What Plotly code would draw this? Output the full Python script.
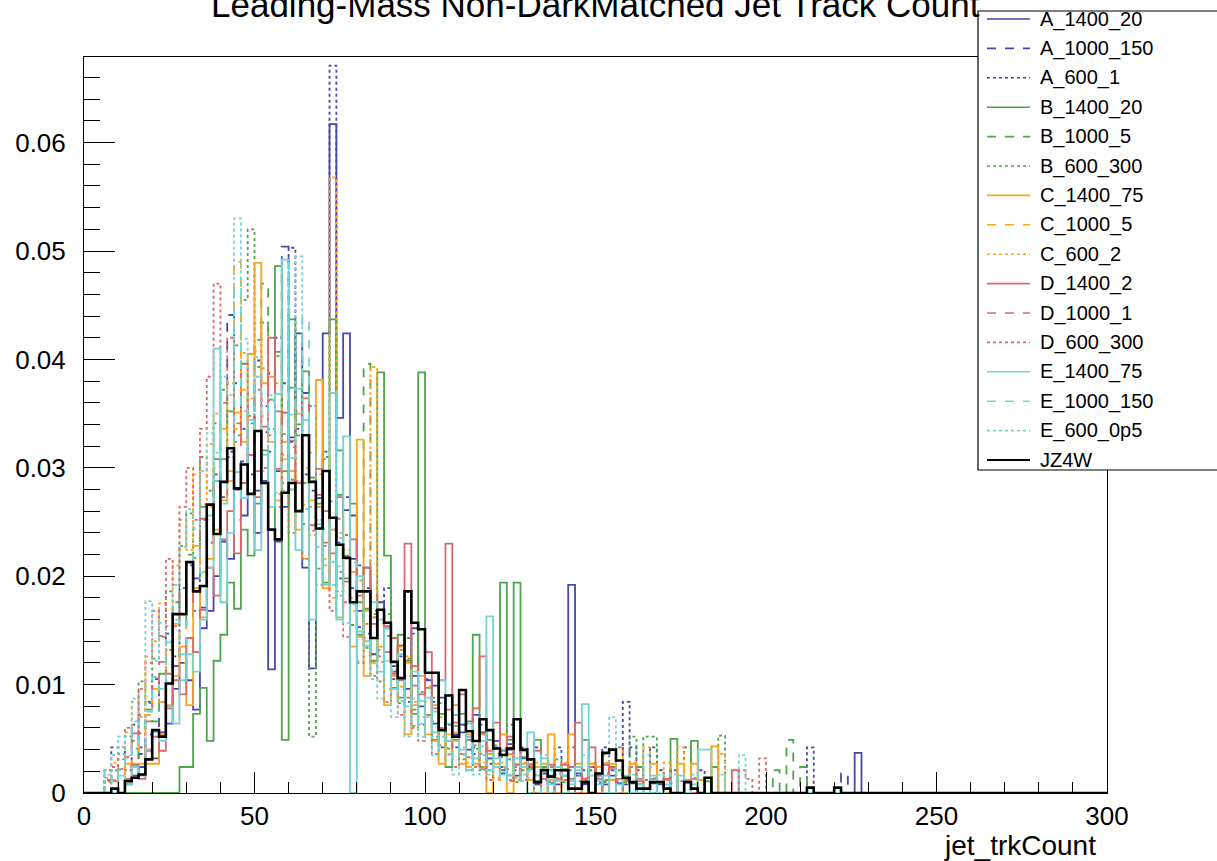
import numpy as np
import plotly.graph_objects as go

# ---------------- data (bin width 2, bins start at 0) ----------------
bin_width = 2
x_min, x_max = 0, 300

A_1400_20 = [0,0,0,0,0, 0,0.0008,0.0016,0.0024,0.0040, 0.0032,0.0056,0.0064,0.0096,0.0120,
    0.0104,0.0077,0.0152,0.0168,0.0200, 0.0232,0.0216,0.0280,0.0256,0.0312,
    0.0240,0.0288,0.0114,0.0232,0.0264, 0.0328,0.0424,0.0208,0.0115,0.0272,
    0.0424,0.0617,0.0346,0.0424,0.0256, 0.0168,0.0208,0.0128,0.0176,0.0152,
    0.0112,0.0136,0.0096,0.0152,0.0080, 0.0104,0.0064,0.0088,0.0048,0.0072,
    0.0056,0.0040,0.0072,0.0056,0.0032, 0.0048,0.0024,0.0040,0.0016,0.0032,
    0.0024,0.0008,0.0024,0.0016,0.0008, 0.0016,0.0192,0.0016,0.0008,0.0024,
    0.0016,0.0008,0.0016,0,0.0008, 0,0.0008,0,0,0.0008, 0,0,0,0,0, 0,0,0,0,0,
    0,0,0,0,0, 0,0,0,0,0, 0,0,0,0,0, 0,0,0,0.0037]
A_1000_150 = [0,0,0,0,0.0018, 0.0009,0.0018,0.0027,0.0036,0.0054, 0.0045,0.0072,0.0081,0.0117,0.0135,
    0.0162,0.0198,0.0171,0.0252,0.0288, 0.0342,0.0441,0.0252,0.0306,0.0351,
    0.0279,0.0333,0.0387,0.0297,0.0504, 0.0324,0.0405,0.0369,0.0279,0.0225,
    0.0288,0.0243,0.0198,0.0261,0.0216, 0.0153,0.0189,0.0162,0.0126,0.0171,
    0.0117,0.0135,0.0090,0.0108,0.0126, 0.0081,0.0099,0.0063,0.0072,0.0054,
    0.0063,0.0045,0.0036,0.0054,0.0027, 0.0036,0.0018,0.0045,0.0027,0.0018,
    0.0027,0.0009,0.0018,0.0009,0.0018, 0.0009,0,0.0018,0.0009,0,
    0.0009,0.0018,0,0.0009,0.0043, 0.0009,0,0,0.0009,0, 0,0.0009,0,0,0,
    0,0,0,0,0, 0,0,0,0,0, 0,0,0,0,0, 0,0,0,0,0, 0,0.0018]
A_600_1 = [0,0,0,0.0021,0.0042, 0.0042,0.0021,0.0063,0.0042,0.0084, 0.0105,0.0084,0.0147,0.0126,0.0189,
    0.0210,0.0168,0.0252,0.0231,0.0294, 0.0273,0.0315,0.0378,0.0336,0.0294,
    0.0399,0.0357,0.0315,0.0420,0.0378, 0.0503,0.0336,0.0294,0.0357,0.0252,
    0.0315,0.0671,0.0231,0.0273,0.0189, 0.0210,0.0147,0.0168,0.0126,0.0189,
    0.0105,0.0126,0.0084,0.0147,0.0063, 0.0105,0.0084,0.0042,0.0063,0.0042,
    0.0063,0.0021,0.0042,0.0063,0.0021, 0.0042,0.0021,0.0063,0.0021,0.0042,
    0.0021,0.0042,0,0.0021,0.0042, 0.0021,0.0042,0,0.0021,0.0021,
    0,0.0042,0.0021,0.0042,0.0084, 0.0042,0.0021,0,0.0042,0.0021,
    0,0.0021,0,0.0042,0, 0.0021,0,0,0,0, 0,0,0,0,0, 0,0,0,0,0, 0,0.0042]
B_1400_20 = [0,0,0,0,0, 0,0,0,0,0, 0,0,0,0,0.0024,
    0.0024,0.0073,0.0097,0.0048,0.0122, 0.0146,0.0194,0.0170,0.0243,0.0219,
    0.0267,0.0316,0.0243,0.0486,0.0049, 0.0437,0.0340,0.0389,0.0291,0.0267,
    0.0194,0.0437,0.0316,0.0219,0.0267, 0.0146,0.0170,0.0122,0.0388,0.0219,
    0.0097,0.0146,0.0122,0.0073,0.0388, 0.0097,0.0049,0.0073,0.0024,0.0049,
    0.0073,0.0049,0.0146,0.0024,0.0049, 0.0024,0.0194,0.0049,0.0194,0.0024,
    0,0.0049,0.0024,0,0.0024, 0,0.0024,0,0.0049,0, 0.0024,0,0.0024,0,0,
    0,0.0024,0,0,0, 0,0.0050,0,0,0.0048, 0,0,0.0024]
B_1000_5 = [0,0,0,0,0, 0.0011,0.0022,0.0033,0.0055,0.0077, 0.0066,0.0110,0.0132,0.0176,0.0154,
    0.0220,0.0198,0.0264,0.0242,0.0308, 0.0286,0.0352,0.0330,0.0396,0.0341,
    0.0418,0.0470,0.0363,0.0407,0.0297, 0.0374,0.0330,0.0286,0.0352,0.0264,
    0.0308,0.0242,0.0275,0.0198,0.0231, 0.0176,0.0396,0.0154,0.0132,0.0165,
    0.0110,0.0088,0.0143,0.0077,0.0110, 0.0066,0.0088,0.0044,0.0077,0.0055,
    0.0044,0.0066,0.0033,0.0055,0.0022, 0.0044,0.0033,0.0022,0.0011,0.0033,
    0.0022,0.0011,0.0022,0,0.0011, 0.0022,0,0.0011,0,0.0022, 0,0.0011,0,0.0011,0,
    0.0011,0,0.0011,0,0, 0.0022,0,0.0011,0,0, 0,0.0011,0,0,0, 0,0,0,0,0,
    0,0.0021,0,0.0049,0, 0.0024]
B_600_300 = [0,0,0,0.0010,0.0021, 0.0031,0.0052,0.0041,0.0103,0.0083, 0.0124,0.0145,0.0186,0.0165,0.0228,
    0.0258,0.0217,0.0310,0.0279,0.0341, 0.0372,0.0310,0.0413,0.0455,0.0520,
    0.0393,0.0434,0.0362,0.0403,0.0331, 0.0289,0.0352,0.0248,0.0052,0.0207,
    0.0310,0.0269,0.0186,0.0238,0.0155, 0.0196,0.0134,0.0165,0.0103,0.0145,
    0.0114,0.0083,0.0124,0.0062,0.0093, 0.0072,0.0052,0.0083,0.0041,0.0062,
    0.0031,0.0052,0.0041,0.0021,0.0031, 0.0041,0.0021,0.0031,0.0010,0.0021,
    0.0031,0.0010,0.0021,0.0010,0.0031, 0.0010,0.0021,0,0.0010,0.0021,
    0,0.0010,0,0.0021,0.0010, 0.0052,0,0.0052,0.0052,0.0010, 0,0.0021,0,0.0010,0,
    0,0.0010,0,0.0053]
C_1400_75 = [0,0,0,0,0, 0,0.0027,0.0027,0.0027,0.0027, 0.0027,0.0054,0.0081,0.0108,0.0135,
    0.0081,0.0189,0.0162,0.0216,0.0243, 0.0270,0.0297,0.0351,0.0324,0.0405,
    0.0489,0.0378,0.0324,0.0270,0.0351, 0.0297,0.0243,0.0216,0.0270,0.0381,
    0.0189,0.0243,0.0162,0.0216,0.0135, 0.0326,0.0108,0.0162,0.0135,0.0081,
    0.0108,0.0135,0.0054,0.0081,0.0108, 0.0054,0.0081,0.0027,0.0054,0.0081,
    0.0027,0.0054,0.0027,0.0054,0, 0.0027,0.0054,0,0.0027,0.0027,
    0.0027,0,0.0027,0.0054,0, 0.0027,0.0054,0.0027,0,0.0027, 0,0.0027,0.0027,0,0,
    0.0027,0,0,0.0027,0, 0,0,0.0027,0,0.0027, 0,0,0.0043]
C_1000_5 = [0,0,0,0,0.0012, 0.0012,0.0024,0.0048,0.0036,0.0072, 0.0096,0.0084,0.0132,0.0156,0.0120,
    0.0192,0.0228,0.0204,0.0264,0.0300, 0.0336,0.0288,0.0490,0.0372,0.0312,
    0.0408,0.0348,0.0384,0.0276,0.0324, 0.0360,0.0252,0.0300,0.0228,0.0264,
    0.0216,0.0180,0.0240,0.0168,0.0204, 0.0144,0.0168,0.0120,0.0156,0.0096,
    0.0108,0.0084,0.0120,0.0072,0.0060, 0.0084,0.0048,0.0060,0.0036,0.0048,
    0.0036,0.0024,0.0048,0.0024,0.0036, 0.0012,0.0024,0.0036,0.0012,0.0024,
    0.0012,0.0024,0,0.0012,0.0024, 0.0012,0,0.0024,0.0012,0, 0.0024,0.0036,0.0012,0,0.0012,
    0,0.0012,0,0.0024,0, 0.0012,0,0,0.0012,0, 0.0012,0,0]
C_600_2 = [0,0,0,0.0014,0.0028, 0.0042,0.0056,0.0084,0.0070,0.0126, 0.0140,0.0175,0.0154,0.0210,0.0252,
    0.0224,0.0294,0.0266,0.0322,0.0350, 0.0308,0.0378,0.0336,0.0406,0.0364,
    0.0434,0.0392,0.0336,0.0378,0.0308, 0.0280,0.0350,0.0266,0.0238,0.0294,
    0.0210,0.0568,0.0182,0.0224,0.0168, 0.0196,0.0140,0.0393,0.0126,0.0154,
    0.0112,0.0098,0.0126,0.0084,0.0070, 0.0098,0.0056,0.0070,0.0042,0.0056,
    0.0042,0.0028,0.0056,0.0028,0.0042, 0.0014,0.0028,0.0042,0.0014,0.0028,
    0.0014,0.0028,0,0.0028,0.0014, 0.0028,0.0014,0,0.0014,0.0028, 0.0014,0.0028,0,0.0042,0.0014,
    0.0028,0,0.0042,0.0014,0, 0.0028,0,0.0042,0,0.0014, 0,0,0.0043,0.0036]
D_1400_2 = [0,0,0,0,0, 0,0.0013,0.0026,0.0013,0.0039, 0.0052,0.0039,0.0078,0.0104,0.0091,
    0.0143,0.0130,0.0169,0.0208,0.0182, 0.0234,0.0260,0.0221,0.0286,0.0312,
    0.0273,0.0338,0.0420,0.0299,0.0351, 0.0325,0.0286,0.0364,0.0247,0.0299,
    0.0260,0.0221,0.0273,0.0195,0.0234, 0.0182,0.0208,0.0156,0.0169,0.0130,
    0.0143,0.0104,0.0230,0.0117,0.0091, 0.0130,0.0078,0.0104,0.0230,0.0065,
    0.0091,0.0052,0.0078,0.0126,0.0039, 0.0065,0.0039,0.0052,0.0026,0.0039,
    0.0026,0.0039,0.0013,0.0026,0.0013, 0.0026,0.0013,0.0065,0.0013,0.0042,
    0.0013,0.0026,0,0.0013,0.0013, 0,0.0013,0,0.0013,0, 0.0013,0,0,0,0.0013,
    0,0,0,0,0, 0.0021]
D_1000_1 = [0,0,0,0.0011,0.0011, 0.0022,0.0033,0.0055,0.0072,0.0066, 0.0099,0.0121,0.0110,0.0154,0.0187,
    0.0176,0.0220,0.0253,0.0231,0.0286, 0.0308,0.0275,0.0341,0.0319,0.0363,
    0.0297,0.0385,0.0330,0.0352,0.0286, 0.0319,0.0264,0.0308,0.0242,0.0275,
    0.0231,0.0198,0.0253,0.0176,0.0209, 0.0165,0.0143,0.0187,0.0121,0.0154,
    0.0110,0.0132,0.0088,0.0099,0.0077, 0.0088,0.0066,0.0055,0.0077,0.0044,
    0.0055,0.0033,0.0044,0.0022,0.0044, 0.0033,0.0022,0.0011,0.0033,0.0022,
    0.0011,0.0022,0.0011,0,0.0022, 0.0011,0,0.0011,0.0022,0, 0.0011,0,0.0022,0,0.0011,
    0,0.0011,0,0,0.0011, 0,0,0.0011]
D_600_300 = [0,0,0,0.0012,0.0024, 0.0036,0.0060,0.0048,0.0096,0.0120, 0.0168,0.0144,0.0216,0.0192,0.0264,
    0.0300,0.0252,0.0336,0.0384,0.0470, 0.0360,0.0420,0.0324,0.0396,0.0348,
    0.0372,0.0300,0.0336,0.0264,0.0312, 0.0240,0.0288,0.0216,0.0264,0.0192,
    0.0228,0.0168,0.0204,0.0144,0.0180, 0.0120,0.0156,0.0108,0.0132,0.0084,
    0.0096,0.0072,0.0108,0.0060,0.0048, 0.0072,0.0036,0.0060,0.0048,0.0024,
    0.0036,0.0048,0.0024,0.0036,0.0012, 0.0024,0.0036,0.0012,0.0024,0.0012,
    0.0024,0,0.0012,0.0024,0, 0.0012,0.0024,0,0.0012,0.0024, 0,0.0012,0.0024,0,0.0012,
    0.0024,0,0.0012,0,0, 0.0012,0,0,0.0012,0, 0,0,0,0,0, 0,0.0021,0.0013,0,0.0032]
E_1400_75 = [0,0,0,0,0, 0.0016,0.0008,0.0024,0.0016,0.0040, 0.0056,0.0048,0.0080,0.0064,0.0104,
    0.0128,0.0112,0.0160,0.0208,0.0410, 0.0176,0.0240,0.0296,0.0272,0.0344,
    0.0224,0.0312,0.0264,0.0368,0.0492, 0.0280,0.0224,0.0344,0.0160,0.0248,
    0.0192,0.0369,0.0160,0.0329,0, 0.0200,0.0136,0.0176,0.0112,0.0152,
    0.0096,0.0128,0.0080,0.0112,0.0064, 0.0088,0.0056,0.0104,0.0048,0.0072,
    0.0040,0.0064,0.0032,0.0048,0.0163, 0.0024,0.0040,0.0016,0.0032,0.0024,
    0.0056,0.0016,0.0032,0.0008,0.0024, 0.0016,0.0008,0.0024,0.0082,0.0016,
    0.0008,0.0016,0,0.0008,0.0016, 0,0.0008,0,0.0016,0, 0.0008,0,0.0016,0,0.0008,
    0.0040,0.0040]
E_1000_150 = [0,0,0,0.0021,0.0011, 0.0021,0.0032,0.0066,0.0043,0.0075, 0.0107,0.0096,0.0139,0.0160,0.0128,
    0.0192,0.0224,0.0203,0.0256,0.0288, 0.0267,0.0320,0.0466,0.0352,0.0299,
    0.0384,0.0331,0.0363,0.0277,0.0341, 0.0309,0.0373,0.0438,0.0288,0.0245,
    0.0267,0.0213,0.0235,0.0181,0.0213, 0.0149,0.0171,0.0128,0.0160,0.0107,
    0.0117,0.0085,0.0107,0.0064,0.0085, 0.0053,0.0075,0.0043,0.0064,0.0032,
    0.0043,0.0021,0.0032,0.0043,0.0021, 0.0032,0.0011,0.0021,0.0032,0.0011,
    0.0021,0.0011,0,0.0021,0.0011, 0,0.0011,0.0021,0,0.0011, 0.0011,0,0.0021,0,0,
    0.0011,0,0,0.0011,0, 0,0.0011,0]
E_600_0p5 = [0,0,0,0.0017,0.0035, 0.0052,0.0035,0.0087,0.0070,0.0177, 0.0122,0.0157,0.0140,0.0192,0.0227,
    0.0262,0.0244,0.0297,0.0332,0.0314, 0.0384,0.0367,0.0530,0.0419,0.0349,
    0.0402,0.0297,0.0367,0.0332,0.0279, 0.0349,0.0495,0.0262,0.0314,0.0227,
    0.0244,0.0192,0.0209,0.0157,0.0174, 0.0122,0.0140,0.0105,0.0087,0.0122,
    0.0070,0.0105,0.0052,0.0087,0.0052, 0.0070,0.0035,0.0052,0.0035,0.0017,
    0.0035,0.0052,0.0017,0.0035,0.0017, 0.0035,0.0017,0.0017,0.0035,0.0017,
    0,0.0017,0.0035,0,0.0017, 0.0017,0,0.0017,0.0035,0, 0.0017,0.0035,0.0070,0.0017,0,
    0.0017,0,0.0035,0,0.0017, 0,0.0017,0,0,0.0017, 0,0,0,0.0017,0, 0,0.0035]
JZ4W = [0,0,0,0,0.0004, 0,0.0011,0.0014,0.0017,0.0031, 0.0058,0.0052,0.0101,0.0165,0.0165,
    0.0213,0.0186,0.0191,0.0266,0.0239, 0.0287,0.0318,0.0281,0.0303,0.0276,
    0.0334,0.0286,0.0243,0.0234,0.0277, 0.0286,0.0260,0.0330,0.0287,0.0244,
    0.0297,0.0254,0.0229,0.0217,0.0176, 0.0186,0.0186,0.0143,0.0169,0.0157,
    0.0121,0.0106,0.0186,0.0157,0.0151, 0.0111,0.0111,0.0058,0.0090,0.0052,
    0.0095,0.0057,0.0048,0.0068,0.0058, 0.0041,0.0035,0.0041,0.0068,0.0040,
    0.0031,0.0010,0.0021,0.0015,0.0021, 0.0021,0.0004,0.0004,0.0010,0,
    0.0018,0.0037,0.0040,0.0030,0.0014, 0.0010,0.0004,0.0004,0.0010,0.0010,
    0.0004,0,0,0.0010,0.0004, 0,0.0014,0,0,0, 0,0,0,0,0, 0,0,0,0,0,
    0,0.0005,0,0,0, 0.0005]

series_names = ["A_1400_20", "A_1000_150", "A_600_1", "B_1400_20", "B_1000_5", "B_600_300",
                "C_1400_75", "C_1000_5", "C_600_2", "D_1400_2", "D_1000_1", "D_600_300",
                "E_1400_75", "E_1000_150", "E_600_0p5", "JZ4W"]
series_values = [A_1400_20, A_1000_150, A_600_1, B_1400_20, B_1000_5, B_600_300,
                 C_1400_75, C_1000_5, C_600_2, D_1400_2, D_1000_1, D_600_300,
                 E_1400_75, E_1000_150, E_600_0p5, JZ4W]

# ---------------- styles ----------------
BLUE, GREEN, ORANGE, RED, CYAN = "#4646ad", "#4ca64c", "#ffa31a", "#d9686a", "#72d4d4"
styles = [(BLUE, "solid"), (BLUE, "dash"), (BLUE, "dot"),
          (GREEN, "solid"), (GREEN, "dash"), (GREEN, "dot"),
          (ORANGE, "solid"), (ORANGE, "dash"), (ORANGE, "dot"),
          (RED, "solid"), (RED, "dash"), (RED, "dot"),
          (CYAN, "solid"), (CYAN, "dash"), (CYAN, "dot"),
          ("#000000", "solid")]

FONT = "Liberation Sans, Arial, Helvetica, sans-serif"
edges = np.arange(x_min, x_max + bin_width, bin_width)
nbins = len(edges) - 1

fig = go.Figure()
for name, vals, (col, dash) in zip(series_names, series_values, styles):
    v = np.zeros(nbins)
    v[:len(vals)] = vals
    xs = np.repeat(edges, 2)
    ys = np.concatenate([[0.0], np.repeat(v, 2), [0.0]])
    width = 2.6 if name == "JZ4W" else 1.8
    fig.add_trace(go.Scatter(x=xs, y=ys, mode="lines", name=name,
                             line=dict(color=col, dash=dash, width=width),
                             cliponaxis=False, showlegend=False, hoverinfo="skip"))

# ---------------- layout ----------------
L, R, T, B = 84, 1107, 57, 793
W, H = 1217, 861
def px(xp):
    return (xp - L) / (R - L)
def py(yp):
    return (B - yp) / (B - T)

fig.update_layout(
    width=W, height=H,
    margin=dict(l=L, r=W - R, t=T, b=H - B, autoexpand=False),
    paper_bgcolor="white", plot_bgcolor="white",
    font=dict(family=FONT, color="black"),
    showlegend=False,
)
fig.update_xaxes(range=[0, 300], dtick=50, tick0=0, ticks="inside", ticklen=21, tickwidth=1,
                 tickcolor="black", showline=True, linecolor="black", linewidth=1, mirror=True,
                 showgrid=False, zeroline=False, tickfont=dict(size=26, family=FONT),
                 ticklabelstandoff=0,
                 minor=dict(dtick=10, ticks="inside", ticklen=11, tickcolor="black", showgrid=False))
fig.update_yaxes(range=[0, 0.0679], dtick=0.01, tick0=0, ticks="inside", ticklen=31, tickwidth=1,
                 tickcolor="black", showline=True, linecolor="black", linewidth=1, mirror=True,
                 showgrid=False, zeroline=False, tickfont=dict(size=26, family=FONT),
                 ticklabelstandoff=12,
                 minor=dict(dtick=0.002, ticks="inside", ticklen=16, tickcolor="black", showgrid=False))

annotations = [
    dict(text="Leading-Mass Non-DarkMatched Jet Track Count", xref="paper", yref="paper",
         x=0.5, y=py(4), xanchor="center", yanchor="middle", showarrow=False,
         font=dict(size=35, family=FONT, color="black")),
    dict(text="jet_trkCount", xref="paper", yref="paper", x=px(1098), y=py(845),
         xanchor="right", yanchor="middle", showarrow=False,
         font=dict(size=28, family=FONT, color="black")),
]
shapes = [dict(type="rect", xref="paper", yref="paper", x0=px(978), x1=px(1240),
               y0=py(470), y1=py(11), fillcolor="white", line=dict(color="black", width=1.2),
               layer="above")]
row0, row_step = 19, 29.4
for i, (name, (col, dash)) in enumerate(zip(series_names, styles)):
    yy = py(row0 + i * row_step)
    shapes.append(dict(type="line", xref="paper", yref="paper", x0=px(987), x1=px(1030),
                       y0=yy, y1=yy, line=dict(color=col, dash=dash,
                                               width=2 if name == "JZ4W" else 1.6),
                       layer="above"))
    annotations.append(dict(text=name, xref="paper", yref="paper", x=px(1038), y=yy,
                            xanchor="left", yanchor="middle", showarrow=False,
                            font=dict(size=20, family=FONT, color="black")))
fig.update_layout(annotations=annotations, shapes=shapes)

fig.write_html("out.html")
